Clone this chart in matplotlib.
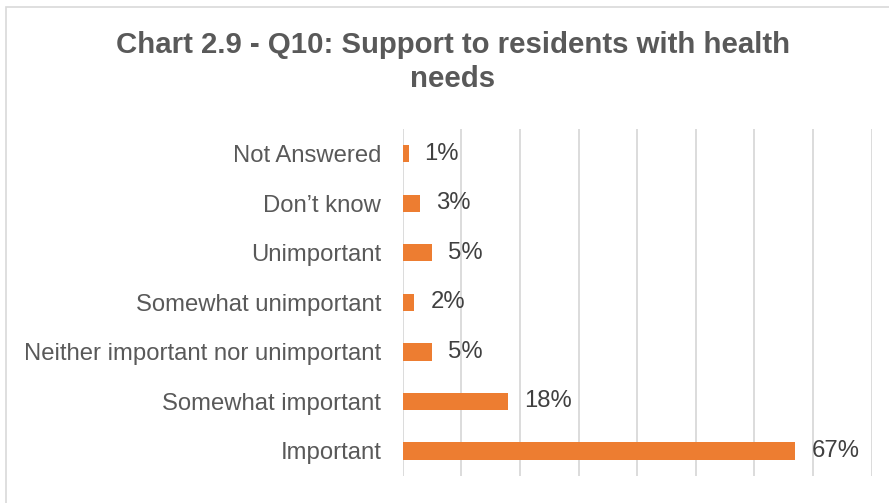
import matplotlib
matplotlib.use("Agg")
import matplotlib.pyplot as plt
from matplotlib.patches import Rectangle

categories = ["Not Answered", "Don\u2019t know", "Unimportant", "Somewhat unimportant",
              "Neither important nor unimportant", "Somewhat important", "Important"]
values = [1, 3, 5, 2, 5, 18, 67]

BAR = "#ED7D31"
GRID = "#D9D9D9"
TEXT = "#595959"
LABEL = "#404040"

plt.rcParams["font.family"] = ["Liberation Sans", "DejaVu Sans"]

fig = plt.figure(figsize=(8.89, 5.03), dpi=100)
ax = fig.add_axes([0.453, 0.0543, 0.5275, 0.6892])

# chart frame (runs off the right and bottom edges)
fig.patches.append(Rectangle((6 / 889, -0.05), 1.2, 1 - 7 / 503 + 0.05,
                             transform=fig.transFigure, fill=False,
                             edgecolor=GRID, linewidth=1.2))

y = list(range(len(categories)))[::-1]
ax.barh(y, values, height=0.35, color=BAR, zorder=3)
for yi, v in zip(y, values):
    ax.annotate(f"{v}%", (v, yi), xytext=(11.5, 0), textcoords="offset points",
                va="center", ha="left", fontsize=17.2, color=LABEL)

ax.set_xlim(0, 80)
ax.set_ylim(-0.5, len(categories) - 0.5)
ax.set_xticks(range(0, 81, 10))
ax.xaxis.grid(True, color=GRID, linewidth=1.3, zorder=0)
ax.tick_params(axis="x", length=0, labelbottom=False)
ax.set_yticks(y)
ax.set_yticklabels(categories, fontsize=17.2, color=TEXT)
ax.tick_params(axis="y", length=0, pad=15.5)
for s in ax.spines.values():
    s.set_visible(False)

fig.text(453 / 889, 1 - 62 / 503, "Chart 2.9 - Q10: Support to residents with health\nneeds",
         ha="center", va="center", fontsize=21.2, fontweight="bold", color=TEXT,
         linespacing=1.3)

fig.savefig("out.png", dpi=100)
